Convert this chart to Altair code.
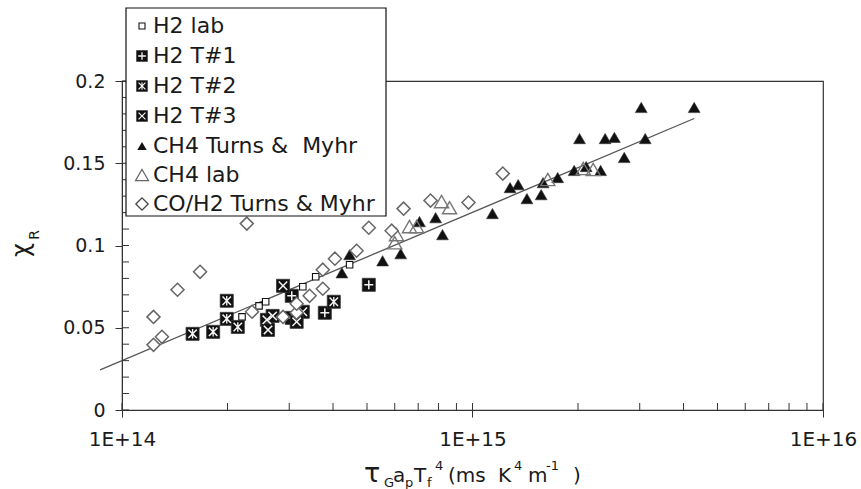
import altair as alt
import pandas as pd

# ---------------- data (x: tau_G a_p T_f^4 in ms K^4 m^-1, y: chi_R) ----------------
h2_lab_x = [2.20e14, 2.46e14, 2.57e14, 3.28e14, 3.57e14, 4.46e14]
h2_lab_y = [0.0566, 0.0633, 0.0658, 0.0749, 0.0810, 0.0883]

h2_t1_x = [3.05e14, 3.79e14, 5.06e14, 3.05e14]
h2_t1_y = [0.0694, 0.0591, 0.0761, 0.0560]

h2_t2_x = [1.59e14, 1.82e14, 1.99e14, 1.99e14, 2.14e14, 4.02e14]
h2_t2_y = [0.0463, 0.0475, 0.0664, 0.0554, 0.0505, 0.0658]

h2_t3_x = [2.59e14, 2.61e14, 2.69e14, 2.88e14, 3.28e14, 3.15e14]
h2_t3_y = [0.0548, 0.0487, 0.0572, 0.0755, 0.0597, 0.0536]

ch4_tm_x = [3.03e15, 4.29e15, 2.02e15, 2.39e15, 2.54e15, 3.11e15, 2.71e15, 1.95e15,
            2.11e15, 2.32e15, 1.75e15, 1.59e15, 1.57e15, 1.35e15, 1.28e15, 1.43e15,
            1.14e15, 8.21e14, 7.85e14, 7.06e14, 6.24e14, 5.54e14, 4.46e14, 4.24e14]
ch4_tm_y = [0.1839, 0.1839, 0.1650, 0.1650, 0.1657, 0.1650, 0.1535, 0.1456,
            0.1480, 0.1456, 0.1413, 0.1382, 0.1309, 0.1370, 0.1352, 0.1285,
            0.1194, 0.1066, 0.1169, 0.1145, 0.0950, 0.0907, 0.0944, 0.0834]

ch4_lab_x = [8.16e14, 8.60e14, 6.61e14, 6.93e14, 6.07e14, 6.00e14, 2.07e15, 2.21e15, 1.64e15]
ch4_lab_y = [0.1267, 0.1230, 0.1115, 0.1115, 0.1066, 0.1017, 0.1468, 0.1462, 0.1401]

co_x = [1.23e14, 1.30e14, 1.23e14, 1.44e14, 1.67e14, 2.27e14, 2.35e14, 2.88e14, 3.15e14,
        3.15e14, 3.43e14, 3.74e14, 3.74e14, 4.05e14, 4.67e14, 5.06e14, 5.88e14, 6.36e14,
        7.59e14, 9.74e14, 1.22e15]
co_y = [0.0396, 0.0445, 0.0566, 0.0731, 0.0840, 0.1133, 0.0597, 0.0566, 0.0591,
        0.0646, 0.0694, 0.0737, 0.0853, 0.0920, 0.0968, 0.1108, 0.1090, 0.1224,
        0.1273, 0.1261, 0.1437]

fit_x = [8.66e13, 4.29e15]
fit_y = [0.0244, 0.1772]

x_ticks = [1e14, 1e15, 1e16]
x_minor = [1e14, 2e14, 3e14, 4e14, 5e14, 6e14, 7e14, 8e14, 9e14,
           1e15, 2e15, 3e15, 4e15, 5e15, 6e15, 7e15, 8e15, 9e15, 1e16]
y_ticks = [0, 0.05, 0.1, 0.15, 0.2]
y_minor = [0, 0.01, 0.02, 0.03, 0.04, 0.05, 0.06, 0.07, 0.08, 0.09, 0.1,
           0.11, 0.12, 0.13, 0.14, 0.15, 0.16, 0.17, 0.18, 0.19, 0.2]

legend_labels = ["H2 lab", "H2 T#1", "H2 T#2", "H2 T#3",
                 "CH4 Turns &\u00a0 Myhr", "CH4 lab", "CO/H2 Turns & Myhr"]

# ---------------- styling ----------------
FONT = "DejaVu Sans"
W, H = 701, 329
INK = "#1a1a1a"
PLUS = "M-1,-0.17H-0.17V-1H0.17V-0.17H1V0.17H0.17V1H-0.17V0.17H-1Z"
XSHP = "M-1,-0.78L-0.78,-1L0,-0.22L0.78,-1L1,-0.78L0.22,0L1,0.78L0.78,1L0,0.22L-0.78,1L-1,0.78L-0.22,0Z"
ASTR = XSHP + " M-0.14,-1H0.14V1H-0.14Z"

xs = alt.Scale(type="log", domain=[1e14, 1e16])
ys = alt.Scale(domain=[0, 0.2])

XAX = alt.Axis(values=x_ticks, labelExpr="'1E+' + round(log(datum.value) / LN10)",
               tickSize=7, labelPadding=12, labelFontSize=20, labelFont=FONT,
               labelColor=INK, domainColor="#333", tickColor="#333",
               grid=False, title=None, labelFlush=False)
YAX = alt.Axis(values=y_ticks, format=".2~f", tickSize=7, labelPadding=10,
               labelFontSize=19, labelFont=FONT, labelColor=INK,
               domainColor="#333", tickColor="#333", grid=False, title=None)


def df(xv, yv):
    return pd.DataFrame({"x": xv, "y": yv})


def enc():
    return dict(x=alt.X("x:Q", scale=xs, axis=XAX), y=alt.Y("y:Q", scale=ys, axis=YAX))


layers = []

# fit line
layers.append(alt.Chart(df(fit_x, fit_y)).mark_line(color="#555", strokeWidth=1.3, clip=False)
              .encode(**enc()))

# inside ticks
layers.append(alt.Chart(pd.DataFrame({"y": y_minor})).mark_rule(color="#333", strokeWidth=1)
              .encode(y=alt.Y("y:Q", scale=ys, axis=YAX), x=alt.value(0), x2=alt.value(7)))
layers.append(alt.Chart(pd.DataFrame({"x": x_minor})).mark_rule(color="#333", strokeWidth=1)
              .encode(x=alt.X("x:Q", scale=xs, axis=XAX), y=alt.value(H), y2=alt.value(H - 7)))

# H2 lab: small open squares
layers.append(alt.Chart(df(h2_lab_x, h2_lab_y)).mark_point(shape="square", size=42, filled=True,
              fill="white", stroke="#111", strokeWidth=1.1, opacity=1).encode(**enc()))


def boxed(xv, yv, inner, inner_size):
    base = alt.Chart(df(xv, yv)).mark_point(shape="square", size=170, filled=True,
                                           fill="#111", stroke="#333", strokeWidth=0.8,
                                           opacity=1).encode(**enc())
    top = alt.Chart(df(xv, yv)).mark_point(shape=inner, size=inner_size, filled=True,
                                          fill="#f4f4f4", strokeWidth=0, opacity=1).encode(**enc())
    return [base, top]


layers += boxed(h2_t1_x, h2_t1_y, PLUS, 80)
layers += boxed(h2_t2_x, h2_t2_y, ASTR, 90)
layers += boxed(h2_t3_x, h2_t3_y, XSHP, 90)

# CH4 Turns & Myhr: filled triangles
layers.append(alt.Chart(df(ch4_tm_x, ch4_tm_y)).mark_point(shape="triangle-up", size=140,
              filled=True, fill="#111", stroke="#333", strokeWidth=0.6, opacity=1).encode(**enc()))
# CH4 lab: open triangles
layers.append(alt.Chart(df(ch4_lab_x, ch4_lab_y)).mark_point(shape="triangle-up", size=200,
              filled=False, stroke="#777", strokeWidth=1.4, opacity=1).encode(**enc()))
# CO/H2: open diamonds (white filled)
layers.append(alt.Chart(df(co_x, co_y)).mark_point(shape="diamond", size=170, filled=True,
              fill="white", stroke="#666", strokeWidth=1.5, opacity=1).encode(**enc()))

# ---------------- manual legend ----------------
one = pd.DataFrame({"a": [0]})
LX0, LX1, LY0, LY1 = 4, 264, -73, 135
layers.append(alt.Chart(one).mark_rect(fill="white", stroke="#111", strokeWidth=1.2)
              .encode(x=alt.value(LX0), x2=alt.value(LX1), y=alt.value(LY0), y2=alt.value(LY1)))
rows = [-55, -25, 5, 35, 65, 94, 123]
SX = 20


def sym(row, **kw):
    return alt.Chart(one).mark_point(opacity=1, **kw).encode(x=alt.value(SX), y=alt.value(row))


layers.append(sym(rows[0], shape="square", size=36, filled=True, fill="white", stroke="#111", strokeWidth=1.1))
for r, shp in [(rows[1], PLUS), (rows[2], ASTR), (rows[3], XSHP)]:
    layers.append(sym(r, shape="square", size=120, filled=True, fill="#111", stroke="#333", strokeWidth=0.6))
    layers.append(sym(r, shape=shp, size=60, filled=True, fill="#f4f4f4", strokeWidth=0))
layers.append(sym(rows[4], shape="triangle-up", size=90, filled=True, fill="#111", strokeWidth=0))
layers.append(sym(rows[5], shape="triangle-up", size=170, filled=False, stroke="#666", strokeWidth=1.2))
layers.append(sym(rows[6], shape="diamond", size=150, filled=False, stroke="#444", strokeWidth=1.3))
for r, lab in zip(rows, legend_labels):
    layers.append(alt.Chart(one).mark_text(align="left", baseline="middle", fontSize=22, font=FONT,
                                           color=INK)
                  .encode(x=alt.value(31), y=alt.value(r), text=alt.value(lab)))

# ---------------- axis titles (composed text) ----------------
MAIN_B, SUB_B, SUP_B = 401, 406, 389
title_parts = [
    ("\u03c4", 242, MAIN_B, 27), ("G", 262, SUB_B, 13), ("a", 271, MAIN_B, 20),
    ("p", 283, SUB_B, 13), ("T", 292, MAIN_B, 20), ("f", 305, SUB_B, 13),
    ("4", 313, SUP_B, 13), ("(ms", 326, MAIN_B, 20), ("K", 376, MAIN_B, 20),
    ("4", 392, SUP_B, 13), ("m", 406, MAIN_B, 20), ("-1", 424, SUP_B, 13), (")", 451, MAIN_B, 20),
]
for t, px, py, fs in title_parts:
    layers.append(alt.Chart(one).mark_text(align="left", baseline="alphabetic", fontSize=fs,
                                           font=FONT, color=INK)
                  .encode(x=alt.value(px), y=alt.value(py), text=alt.value(t)))

layers.append(alt.Chart(one).mark_text(align="center", baseline="middle", fontSize=24, font=FONT,
                                       color=INK, angle=270)
              .encode(x=alt.value(-100), y=alt.value(169), text=alt.value("\u03c7")))
layers.append(alt.Chart(one).mark_text(align="center", baseline="middle", fontSize=14, font=FONT,
                                       color=INK, angle=270)
              .encode(x=alt.value(-87), y=alt.value(154), text=alt.value("R")))

chart = alt.layer(*layers).properties(
    width=W, height=H,
    autosize=alt.AutoSizeParams(type="none"),
    padding={"left": 122, "top": 81, "right": 38, "bottom": 79},
    background="white",
).configure_view(stroke="#333", strokeWidth=1.2)

chart.save("out.html", embed_options={"renderer": "svg", "actions": False})
